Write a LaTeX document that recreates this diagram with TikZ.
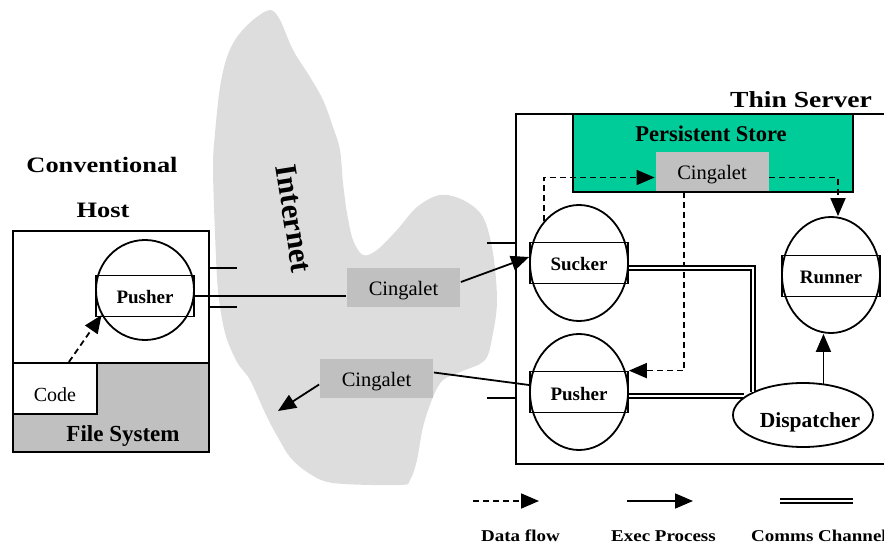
\documentclass[tikz,border=0pt]{standalone}
\usepackage{fontspec}
\setmainfont{Liberation Serif}
\newfontfamily\headfont{Liberation Serif}[FakeStretch=1.2]
\newfontfamily\legendfont{Liberation Serif}[FakeStretch=1.15]
\usetikzlibrary{arrows.meta,shapes.geometric}
\definecolor{storegreen}{RGB}{0,204,153}
\definecolor{cingray}{RGB}{192,192,192}
\definecolor{cloudgray}{RGB}{221,221,221}
\tikzset{
  cingalet/.style={fill=cingray, minimum width=113pt, minimum height=39pt, inner sep=0pt,
    text height=16pt, text depth=0pt, font=\fontsize{20.5}{24}\selectfont},
  proc/.style={draw, ellipse, minimum width=98pt, minimum height=116pt, inner sep=0pt},
  procbox/.style={draw, minimum width=98pt, minimum height=41pt, inner sep=0pt,
    text height=16pt, text depth=0pt, font=\fontsize{19}{22}\selectfont\bfseries},
  heading/.style={anchor=base, font=\headfont\fontsize{22}{26}\selectfont\bfseries},
  legendtext/.style={anchor=base west, font=\legendfont\fontsize{16.5}{18}\selectfont\bfseries},
  exec/.style={-{Triangle[length=18pt,width=15pt]}},
  dataflow/.style={dash pattern=on 6pt off 4pt, -{Triangle[length=18pt,width=15pt]}},
  comms/.style={double, double distance=2.4pt, line width=1.6pt},
}

\begin{document}
\begin{tikzpicture}[x=1pt, y=-1pt, line width=1.8pt]
    \useasboundingbox (0,0) rectangle (884,545);

    % Internet cloud
    \fill[cloudgray] plot[smooth cycle, tension=0.55] coordinates {
        (270,10) (280,20) (293,50) (310,77) (323,100) (333,127) (340,150)
        (343,183) (347,213) (353,240) (363,255) (377,250) (397,230) (417,207)
        (440,195) (463,200) (483,217) (493,253) (497,300) (493,333) (485,360)
        (460,372) (443,380) (433,397) (423,427) (417,460) (410,480) (400,485)
        (333,483) (307,472) (290,457) (280,441) (267,417) (250,380) (237,362)
        (225,333) (218,290) (215,233) (213,167) (215,133) (220,87) (227,57)
        (237,37) (253,20)};
    \node[font=\fontsize{31}{31}\selectfont\bfseries, rotate=-81] (internet) at (294,219) {Internet};

    % Conventional host
    \node[heading] (convlabel) at (102,173) {Conventional};
    \node[heading] (hostlabel) at (103,218) {Host};
    \node[draw, anchor=north west, minimum width=196pt, minimum height=221pt, inner sep=0pt] (host) at (12,230) {};
    \node[draw, fill=cingray, anchor=north west, minimum width=196pt, minimum height=89pt, inner sep=0pt] (fs) at (12,362) {};
    \node[anchor=base, font=\fontsize{23}{26}\selectfont\bfseries] (fslabel) at (123,441) {File System};
    \node[draw, fill=white, anchor=north west, minimum width=84pt, minimum height=51pt, inner sep=0pt,
        text height=27pt, text depth=0pt, font=\fontsize{20}{24}\selectfont] (code) at (12,362) {Code};

    % Thin server
    \node[draw, anchor=north west, minimum width=375pt, minimum height=350pt, inner sep=0pt] (server) at (515,113) {};
    \node[heading, font=\headfont\fontsize{23}{26}\selectfont\bfseries] (serverlabel) at (801,108) {Thin Server};
    \node[draw, fill=storegreen, anchor=north west, minimum width=280pt, minimum height=78pt, inner sep=0pt] (store) at (572,113) {};
    \node[anchor=base, font=\fontsize{22.5}{26}\selectfont\bfseries] (storelabel) at (711,142) {Persistent Store};

    % Cingalets
    \node[cingalet] (cing1) at (403.5,288) {Cingalet};
    \node[cingalet] (cing2) at (376.5,378.5) {Cingalet};
    \node[cingalet] (cing3) at (712,171.5) {Cingalet};

    % Processes
    \foreach \name/\x/\by/\ey/\eh/\txt in {hostpusher/145/296/290/100/Pusher,
        sucker/579/263/263/116/Sucker, pusher/579/392/392/116/Pusher, runner/831/276/275/116/Runner} {
        \node[procbox] (\name-box) at (\x,\by) {\txt};
        \node[proc, minimum height=\eh pt] (\name) at (\x,\ey) {};
    }
    \node[proc, fill=white, minimum width=140pt, minimum height=64pt,
        label={[anchor=center, xshift=7pt, yshift=-7pt, font=\fontsize{21.5}{24}\selectfont\bfseries]center:Dispatcher}]
        (dispatcher) at (803,415) {};

    % Stubs
    \coordinate (h1) at (237,268);
    \coordinate (h2) at (237,307);
    \coordinate (s1) at (487,243);
    \coordinate (s2) at (487,398);
    \draw (host.east |- h1) -- (h1);
    \draw (host.east |- h2) -- (h2);
    \draw (s1) -- (s1 -| server.west);
    \draw (s2) -- (s2 -| server.west);

    % Exec process
    \draw (hostpusher-box.east) -- (hostpusher-box.east -| cing1.west);
    \draw[exec] ([yshift=6pt]cing1.east) -- ([yshift=6pt]sucker-box.west);
    \draw ([yshift=7pt]pusher-box.west) -- ([yshift=6pt]cing2.east);
    \coordinate (lost) at (278,411);
    \draw[exec] ([yshift=-6pt]cing2.west) -- (lost);
    \draw[exec] (dispatcher.57) -- (dispatcher.57 |- runner.south);

    % Data flow
    \draw[dataflow] ([xshift=14pt]code.north) -- (hostpusher.210);
    \draw[dataflow] (sucker.north west) |- ([yshift=-6pt]cing3.west);
    \draw[dataflow] ([yshift=-6pt]cing3.east) -| ([xshift=7pt]runner.north);
    \draw[dataflow] ([xshift=-28pt]cing3.south) |- (pusher-box.north east);

    % Comms channels
    \draw[comms] ([yshift=-5pt]sucker-box.east) -| (dispatcher.north west);
    \draw[comms] ([yshift=-4pt]pusher-box.east) -- ([yshift=-4pt]pusher-box.east -| dispatcher.163);

    % Legend
    \foreach \sty/\xa/\xb/\xt/\txt in {dataflow/473/539/477/Data flow,
        exec/627/693/607/Exec Process, comms/780/853/747/Comms Channel} {
        \coordinate (\sty-a) at (\xa,501);
        \coordinate (\sty-b) at (\xb,501);
        \draw[\sty] (\sty-a) -- (\sty-b);
        \node[legendtext] (\sty-label) at (\xt,541.5) {\txt};
    }
\end{tikzpicture}
\end{document}
